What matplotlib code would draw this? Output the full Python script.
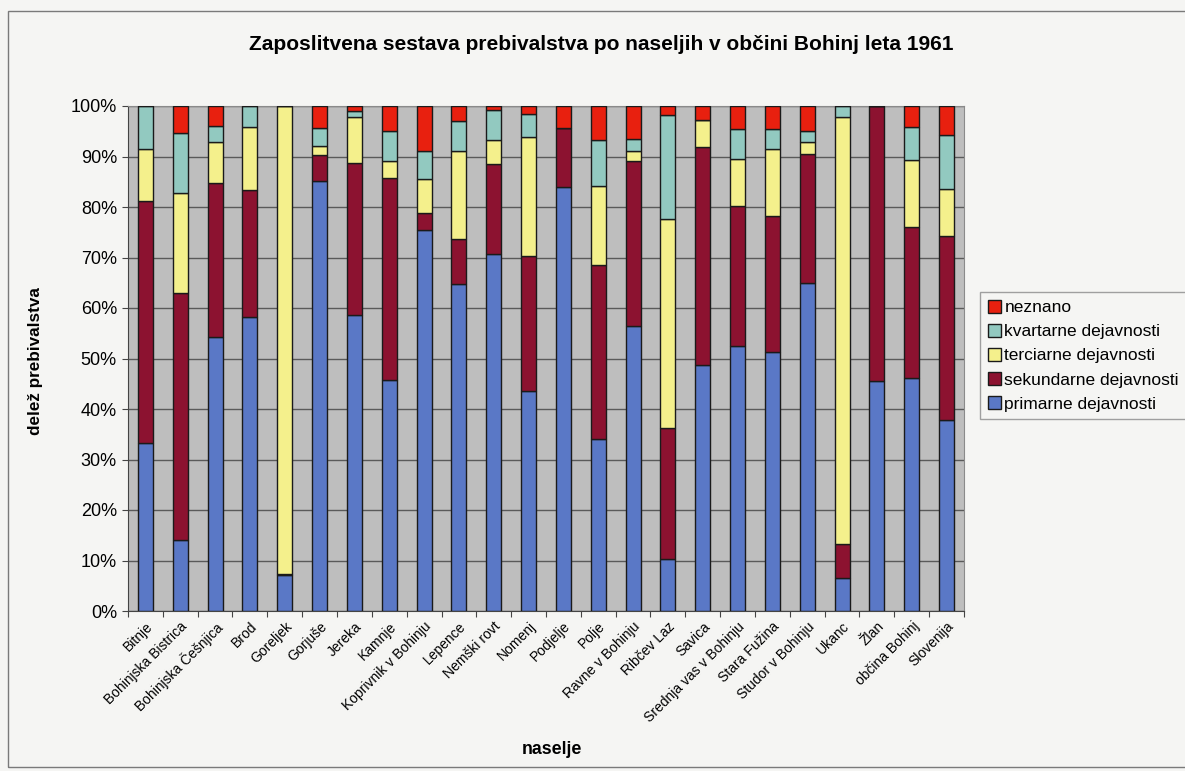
import matplotlib
matplotlib.use("Agg")
import matplotlib.pyplot as plt
import numpy as np
from matplotlib.patches import Rectangle

plt.rcParams['font.family'] = ['Liberation Sans', 'DejaVu Sans']

naselja = ["Bitnje", "Bohinjska Bistrica", "Bohinjska Češnjica", "Brod", "Goreljek",
           "Gorjuše", "Jereka", "Kamnje", "Koprivnik v Bohinju", "Lepence",
           "Nemški rovt", "Nomenj", "Podjelje", "Polje", "Ravne v Bohinju",
           "Ribčev Laz", "Savica", "Srednja vas v Bohinju", "Stara Fužina",
           "Studor v Bohinju", "Ukanc", "Žlan", "občina Bohinj", "Slovenija"]

primarne = [33.2, 14.0, 54.3, 58.3, 7.1, 85.2, 58.6, 45.8, 75.4, 64.7, 70.7, 43.6,
            84.0, 34.1, 56.5, 10.2, 48.7, 52.5, 51.3, 65.0, 6.5, 45.5, 46.2, 37.8]
sekundarne = [48.0, 49.0, 30.4, 25.0, 0.2, 5.1, 30.1, 39.9, 3.5, 8.9, 17.9, 26.7,
              11.7, 34.4, 32.6, 26.0, 43.2, 27.7, 26.9, 25.4, 6.7, 54.5, 29.8, 36.5]
terciarne = [10.3, 19.7, 8.1, 12.5, 92.7, 1.8, 9.1, 3.5, 6.7, 17.4, 4.6, 23.6,
             0.0, 15.7, 2.0, 41.4, 5.3, 9.4, 13.2, 2.4, 84.7, 0.0, 13.4, 9.3]
kvartarne = [8.5, 11.9, 3.2, 4.2, 0.0, 3.5, 1.3, 5.9, 5.4, 6.0, 6.1, 4.6,
             0.0, 9.1, 2.3, 20.6, 0.0, 5.8, 4.0, 2.3, 2.1, 0.0, 6.4, 10.7]
neznano = [0.0, 5.4, 4.0, 0.0, 0.0, 4.4, 0.9, 4.9, 9.0, 3.0, 0.7, 1.5,
           4.3, 6.7, 6.6, 1.8, 2.8, 4.6, 4.6, 4.9, 0.0, 0.0, 4.2, 5.7]

serije = [
    ("primarne dejavnosti", primarne, "#5a78c6"),
    ("sekundarne dejavnosti", sekundarne, "#8c1230"),
    ("terciarne dejavnosti", terciarne, "#f4f08c"),
    ("kvartarne dejavnosti", kvartarne, "#92c9c0"),
    ("neznano", neznano, "#e8200f"),
]

W, H = 1185, 771
fig = plt.figure(figsize=(W / 100, H / 100), dpi=100)
fig.patch.set_facecolor("#f5f5f3")
# chart border
fig.add_artist(Rectangle((8 / W, 0.005), 1.2, 1 - 11 / H - 0.005, transform=fig.transFigure,
                         fill=False, edgecolor="#7a7a7a", linewidth=1.0))

ax = fig.add_axes([128 / W, 1 - 611 / H, (964 - 128) / W, (611 - 106) / H])
ax.set_facecolor("#bebebe")

x = np.arange(len(naselja))
bottom = np.zeros(len(naselja))
handles = []
for name, vals, col in serije:
    v = np.array(vals, dtype=float)
    bars = ax.bar(x, v, 0.43, bottom=bottom, color=col, edgecolor="#1a1a1a",
                  linewidth=1.0, label=name, zorder=3)
    bottom += v
    handles.append(bars)

ax.set_xlim(-0.5, len(naselja) - 0.5)
ax.set_ylim(0, 100)
ax.set_yticks(np.arange(0, 101, 10))
ax.set_yticklabels([f"{t}%" for t in range(0, 101, 10)], fontsize=13)
ax.yaxis.grid(True, color="#5a5a5a", linewidth=1.0, zorder=1)
ax.set_axisbelow(True)

ax.set_xticks(np.arange(-0.5, len(naselja), 1.0))
ax.set_xticklabels([])
ax.set_xticks(x, minor=True)
ax.set_xticklabels(naselja, minor=True, rotation=45, ha="right",
                   rotation_mode="anchor", fontsize=10)
ax.tick_params(axis="x", which="minor", length=0, pad=6)
ax.tick_params(axis="x", which="major", length=4, color="#444444", direction="out")
ax.tick_params(axis="y", length=4, color="#444444", direction="out", pad=4)

for side in ["top", "right"]:
    ax.spines[side].set_color("#8a8a8a")
for side in ["left", "bottom"]:
    ax.spines[side].set_color("#444444")

fig.text(601 / W, 1 - 45 / H, "Zaposlitvena sestava prebivalstva po naseljih v občini Bohinj leta 1961",
         ha="center", va="center", fontsize=15, fontweight="bold")
fig.text(36 / W, 1 - 361 / H, "delež prebivalstva", rotation=90, ha="center", va="center",
         fontsize=12.3, fontweight="bold")
fig.text(552 / W, 1 - 750 / H, "naselje", ha="center", va="center",
         fontsize=12.8, fontweight="bold")

leg = fig.legend(handles=handles[::-1], labels=[s[0] for s in serije][::-1],
                 loc="upper left", bbox_to_anchor=(980 / W, 1 - 292 / H),
                 fontsize=12.5, frameon=True, fancybox=False, handlelength=0.75,
                 handleheight=0.75, handletextpad=0.2, labelspacing=0.5,
                 borderpad=0.45, borderaxespad=0)
leg.get_frame().set_edgecolor("#8a8a8a")
leg.get_frame().set_facecolor("#f5f5f3")
leg.get_frame().set_linewidth(1.0)

fig.savefig("out.png", dpi=100, facecolor=fig.get_facecolor())
